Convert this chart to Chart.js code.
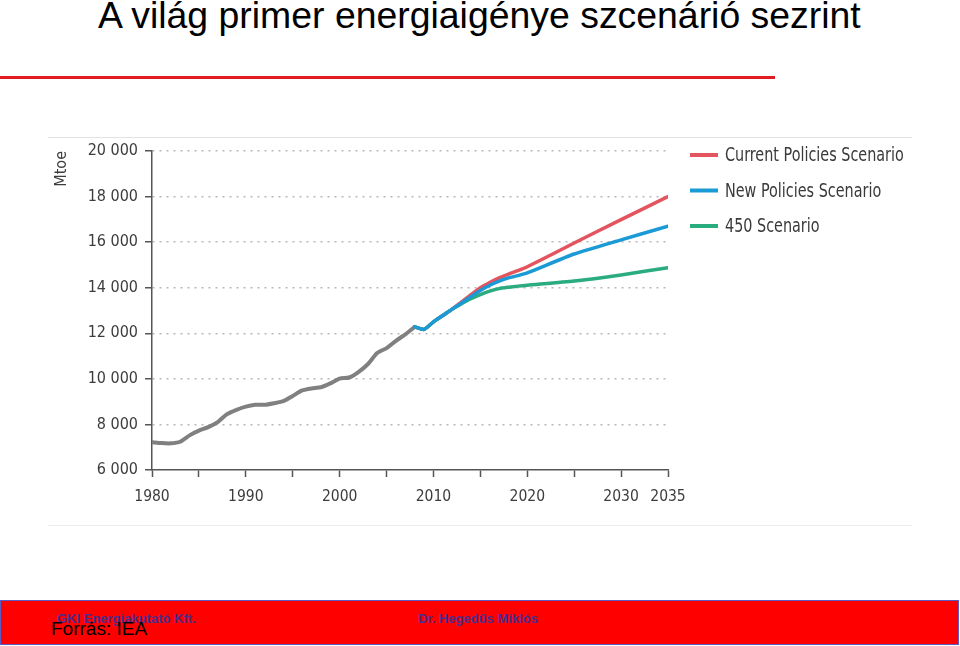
<!DOCTYPE html>
<html>
<head>
<meta charset="utf-8">
<script src="https://cdn.jsdelivr.net/npm/chart.js@4.4.1/dist/chart.umd.min.js"></script>
<style>
  body { margin: 0; width: 960px; height: 646px; background: #fff; position: relative; overflow: hidden; font-family: 'Liberation Sans', Arial, sans-serif; }
  #title { position: absolute; left: 98px; top: -3px; font-size: 37.4px; line-height: 37px; color: #000; white-space: nowrap; }
  #rule { position: absolute; left: 0; top: 76px; width: 775px; height: 3px; background: #e31b23; }
  #frame { position: absolute; left: 48px; top: 137px; width: 864px; height: 387px; border-top: 1px solid #e2e2e2; border-bottom: 1px solid #ececec; }
  #chartContainer { position: absolute; left: 0; top: 0; }
  #footer { position: absolute; left: 0; top: 600px; width: 957px; height: 43px; background: #ff0000; border: 1px solid #5b5bc8; }
  .foot { position: absolute; font-size: 13px; font-weight: bold; color: #4a2e8e; line-height: 13px; white-space: nowrap; }
  #source { position: absolute; left: 51px; top: 619px; font-size: 19px; line-height: 19px; color: #000; white-space: nowrap; }
</style>
</head>
<body>
<div id="title">A világ primer energiaigénye szcenárió sezrint</div>
<div id="rule"></div>
<div id="frame"><canvas id="chartContainer" width="864" height="387"></canvas></div>
<div id="footer">
  <div class="foot" style="left:56px; top:11px;">GKI Energiakutató Kft.</div>
  <div class="foot" style="left:417px; top:11px;">Dr. Hegedűs Miklós</div>
</div>
<div id="source">Forrás: IEA</div>
<script>
// historikus adatok (Mtoe)
const histYears = [1980, 1981, 1982, 1983, 1984, 1985, 1986, 1987, 1988, 1989, 1990, 1991, 1992, 1993, 1994,
                   1995, 1996, 1997, 1998, 1999, 2000, 2001, 2002, 2003, 2004, 2005, 2006, 2007, 2008];
const histValues = [7220, 7180, 7170, 7240, 7520, 7730, 7880, 8100, 8450, 8640, 8780, 8860, 8860, 8930, 9020,
                    9250, 9490, 9580, 9630, 9800, 10010, 10060, 10300, 10640, 11130, 11350, 11670, 11950, 12280];

// szcenáriók
const scenYears = [2008, 2009, 2010, 2011, 2012, 2013, 2014, 2015, 2016, 2017, 2018, 2019, 2020, 2025, 2030, 2035];
const currentPolicies = [12280, 12170, 12500, 12780, 13060, 13380, 13700, 14000, 14230, 14430, 14600, 14750, 14920, 15960, 16990, 18000];
const newPolicies     = [12280, 12170, 12500, 12780, 13060, 13330, 13610, 13880, 14110, 14290, 14430, 14530, 14650, 15480, 16100, 16700];
const scenario450     = [12280, 12170, 12500, 12780, 13060, 13300, 13520, 13700, 13850, 13960, 14020, 14070, 14110, 14290, 14560, 14880];

const seriesLabels = ['Current Policies Scenario', 'New Policies Scenario', '450 Scenario'];
const xTicks = [1980, 1985, 1990, 1995, 2000, 2005, 2010, 2015, 2020, 2025, 2030, 2035];
const yTicks = [6000, 8000, 10000, 12000, 14000, 16000, 18000, 20000];

const narrow = "'Liberation Sans Narrow', 'DejaVu Sans Condensed', sans-serif";

function pts(xs, ys) {
    return xs.map((x, i) => ({ x: x, y: ys[i] }));
}

function fmt(v) {
    return String(v).replace(/\B(?=(\d{3})+(?!\d))/g, ' ');
}

// jelmagyarázat a jobb oldalon
const sideLegend = {
    id: 'sideLegend',
    afterDraw(chart) {
        const c = chart.ctx;
        const x0 = chart.chartArea.right + 22;
        let row = 0;
        chart.data.datasets.forEach(ds => {
            if (!ds.label) return;
            const y = chart.chartArea.top + 4 + row * 35.5;
            c.save();
            c.strokeStyle = ds.borderColor;
            c.lineWidth = 4;
            c.beginPath();
            c.moveTo(x0, y);
            c.lineTo(x0 + 28, y);
            c.stroke();
            c.translate(x0 + 35, y + 1);
            c.scale(0.82, 1);
            c.fillStyle = '#3a3a3a';
            c.font = '19.5px ' + narrow;
            c.textBaseline = 'middle';
            c.fillText(ds.label, 0, 0);
            c.restore();
            row++;
        });
    }
};

const ctx = document.getElementById('chartContainer');
new Chart(ctx, {
    type: 'line',
    data: {
        datasets: [
            { label: '', data: pts(histYears, histValues), borderColor: '#808080', borderWidth: 4, order: 3 },
            { label: seriesLabels[0], data: pts(scenYears, currentPolicies), borderColor: '#e4545f', borderWidth: 3.5, order: 2 },
            { label: seriesLabels[1], data: pts(scenYears, newPolicies), borderColor: '#1b9ad6', borderWidth: 3.5, order: 0 },
            { label: seriesLabels[2], data: pts(scenYears, scenario450), borderColor: '#2bac7f', borderWidth: 3.5, order: 1 }
        ]
    },
    options: {
        responsive: false,
        animation: false,
        elements: { point: { radius: 0 }, line: { tension: 0.2, borderCapStyle: 'round', borderJoinStyle: 'round' } },
        layout: { padding: { top: 13, right: 244, left: 0, bottom: 0 } },
        plugins: { legend: { display: false }, tooltip: { enabled: false } },
        scales: {
            x: {
                type: 'linear',
                min: 1980,
                max: 2035,
                afterBuildTicks: s => { s.ticks = xTicks.map(v => ({ value: v })); },
                afterFit: s => { s.height = 55; },
                ticks: {
                    color: '#3c3c3c',
                    padding: 11,
                    maxRotation: 0,
                    autoSkip: false,
                    font: { family: narrow, size: 15.5 },
                    callback: v => (v % 10 === 0 || v === 2035) ? String(v) : ''
                },
                grid: { drawOnChartArea: false, drawTicks: true, tickLength: 7, tickColor: '#555', tickWidth: 1.5 },
                border: { color: '#555', width: 1.5 }
            },
            y: {
                min: 6000,
                max: 20000,
                afterBuildTicks: s => { s.ticks = yTicks.map(v => ({ value: v })); },
                afterFit: s => { s.width = 104; },
                ticks: {
                    color: '#3c3c3c',
                    padding: 7,
                    font: { family: narrow, size: 16, lineHeight: 0.7 },
                    callback: v => fmt(v)
                },
                grid: {
                    color: c => c.tick && c.tick.value === 6000 ? 'rgba(0,0,0,0)' : '#b8b8b8',
                    lineWidth: 1.5,
                    tickLength: 7,
                    tickColor: '#555',
                    tickWidth: 1.5,
                    tickBorderDash: []
                },
                border: { color: '#555', width: 1.5, dash: [2, 5] },
                title: { display: true, text: 'Mtoe', align: 'end', color: '#3c3c3c', padding: { top: 4, bottom: 0 }, font: { family: narrow, size: 16 } }
            }
        }
    },
    plugins: [sideLegend]
});
</script>
</body>
</html>
